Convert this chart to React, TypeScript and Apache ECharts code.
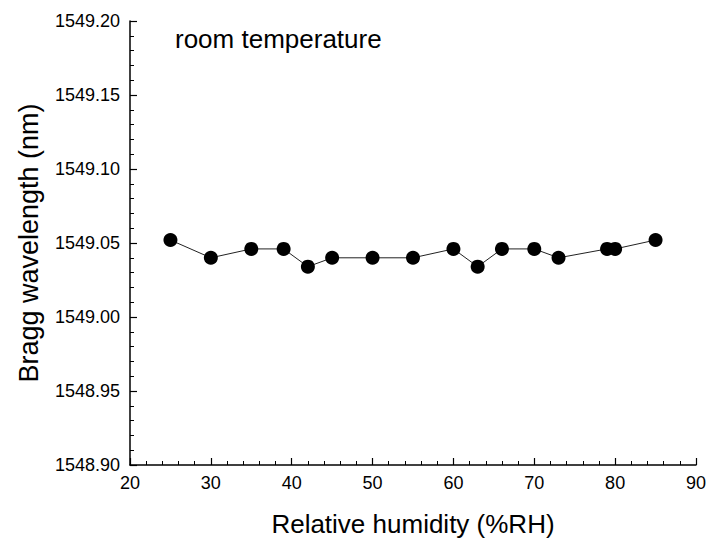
import React, { useEffect, useRef } from "react";
import * as echarts from "echarts";

const humidity = [25, 30, 35, 39, 42, 45, 50, 55, 60, 63, 66, 70, 73, 79, 80, 85];
const wavelength = [
  1549.052, 1549.04, 1549.046, 1549.046, 1549.034, 1549.04, 1549.04, 1549.04,
  1549.046, 1549.034, 1549.046, 1549.046, 1549.04, 1549.046, 1549.046, 1549.052,
];
const xTitle = "Relative humidity (%RH)";
const yTitle = "Bragg wavelength (nm)";
const note = "room temperature";

const FONT = "'Liberation Sans', Arial, sans-serif";

export default function App() {
  const ref = useRef<HTMLDivElement>(null);
  useEffect(() => {
    if (!ref.current) return;
    const chart = echarts.init(ref.current, undefined, { renderer: "svg" });
    const axisCommon = {
      axisLine: { show: true, onZero: false, lineStyle: { color: "#000", width: 1.5 } },
      axisTick: { show: true, inside: true, length: 7, lineStyle: { color: "#000", width: 1.2 } },
      minorTick: { show: true, splitNumber: 5, length: 4, lineStyle: { color: "#000", width: 1 } },
      splitLine: { show: false },
      minorSplitLine: { show: false },
    };
    chart.setOption({
      animation: false,
      backgroundColor: "#fff",
      textStyle: { fontFamily: FONT },
      grid: { left: 130, right: 13, top: 21, bottom: 70, containLabel: false },
      graphic: [
        {
          type: "text",
          left: 175,
          top: 26,
          style: { text: note, fontSize: 26, fontFamily: FONT, fill: "#000" },
        },
      ],
      xAxis: {
        type: "value",
        min: 20,
        max: 90,
        interval: 10,
        name: xTitle,
        nameLocation: "middle",
        nameGap: 46,
        nameTextStyle: { fontSize: 26, color: "#000", fontFamily: FONT },
        axisLabel: { fontSize: 18, color: "#000", margin: 9, fontFamily: FONT },
        ...axisCommon,
      },
      yAxis: {
        type: "value",
        min: 1548.9,
        max: 1549.2,
        interval: 0.05,
        name: yTitle,
        nameLocation: "middle",
        nameGap: 88,
        nameTextStyle: { fontSize: 27, color: "#000", fontFamily: FONT },
        axisLabel: {
          fontSize: 18,
          color: "#000",
          margin: 10,
          fontFamily: FONT,
          formatter: (v: number) => v.toFixed(2),
        },
        ...axisCommon,
      },
      series: [
        {
          type: "line",
          data: humidity.map((h, i) => [h, wavelength[i]]),
          symbol: "circle",
          symbolSize: 14,
          itemStyle: { color: "#000" },
          lineStyle: { color: "#222", width: 1 },
        },
      ],
    });
    return () => chart.dispose();
  }, []);
  return <div ref={ref} style={{ width: 709, height: 542, position: "absolute", left: 0, top: 0 }} />;
}
